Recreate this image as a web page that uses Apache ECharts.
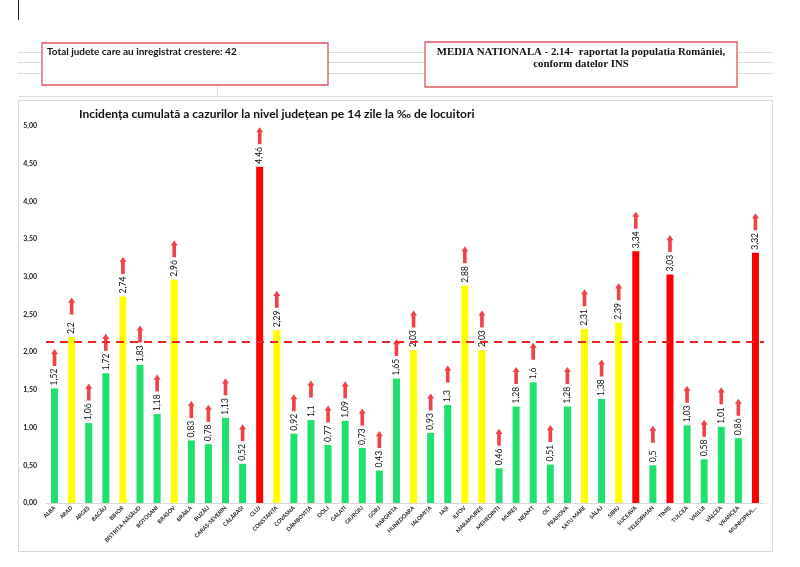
<!DOCTYPE html>
<html>
<head>
<meta charset="utf-8">
<script src="https://cdn.jsdelivr.net/npm/echarts@6/dist/echarts.min.js"></script>
<style>
html, body { margin: 0; padding: 0; background: #fff; }
#chart { width: 800px; height: 567px; }
</style>
</head>
<body>
<div id="chart"></div>
<script>
var judete = ['ALBA', 'ARAD', 'ARGEȘ', 'BACĂU', 'BIHOR', 'BISTRIȚA-NĂSĂUD', 'BOTOȘANI', 'BRAȘOV',
    'BRĂILA', 'BUZĂU', 'CARAȘ-SEVERIN', 'CĂLĂRAȘI', 'CLUJ', 'CONSTANȚA', 'COVASNA', 'DÂMBOVIȚA',
    'DOLJ', 'GALAȚI', 'GIURGIU', 'GORJ', 'HARGHITA', 'HUNEDOARA', 'IALOMIȚA', 'IAȘI', 'ILFOV',
    'MARAMUREȘ', 'MEHEDINȚI', 'MUREȘ', 'NEAMȚ', 'OLT', 'PRAHOVA', 'SATU MARE', 'SĂLAJ', 'SIBIU',
    'SUCEAVA', 'TELEORMAN', 'TIMIȘ', 'TULCEA', 'VASLUI', 'VÂLCEA', 'VRANCEA', 'MUNICIPIUL...'];

var incidenta = [1.52, 2.2, 1.06, 1.72, 2.74, 1.83, 1.18, 2.96, 0.83, 0.78, 1.13, 0.52, 4.46,
    2.29, 0.92, 1.1, 0.77, 1.09, 0.73, 0.43, 1.65, 2.03, 0.93, 1.3, 2.88, 2.03, 0.46, 1.28, 1.6,
    0.51, 1.28, 2.31, 1.38, 2.39, 3.34, 0.5, 3.03, 1.03, 0.58, 1.01, 0.86, 3.32];

var media_nationala = 2.14;
var total_crestere = 42;

var culoare = function(v){
    if (v >= 3) return '#ff0000';
    if (v >= 2) return '#ffff00';
    return '#20e070';
};

var virgula = function(v, fix){
    return (fix ? v.toFixed(fix) : String(v)).replace('.', ',');
};

var myChart = echarts.init(document.getElementById('chart'));

var bar_data = incidenta.map(function(v){
    return {value: v, itemStyle: {color: culoare(v)}};
});

// sageata rosie deasupra fiecarei coloane
var sageata = 'path://M5,0 L10,6 L7.6,6 L7.6,20 L2.4,20 L2.4,6 L0,6 Z';

var graphic = [
    {type: 'line', shape: {x1: 18.5, y1: 0, x2: 18.5, y2: 20}, style: {stroke: '#222', lineWidth: 1}},
    {type: 'line', shape: {x1: 18, y1: 52.5, x2: 773, y2: 52.5}, style: {stroke: '#dcdcdc', lineWidth: 1}},
    {type: 'line', shape: {x1: 18, y1: 62.5, x2: 773, y2: 62.5}, style: {stroke: '#dcdcdc', lineWidth: 1}},
    {type: 'line', shape: {x1: 18, y1: 73.5, x2: 773, y2: 73.5}, style: {stroke: '#dcdcdc', lineWidth: 1}},
    {type: 'line', shape: {x1: 217.5, y1: 85, x2: 217.5, y2: 97}, style: {stroke: '#dcdcdc', lineWidth: 1}},
    {type: 'line', shape: {x1: 18, y1: 96.5, x2: 773, y2: 96.5}, style: {stroke: '#dcdcdc', lineWidth: 1}},
    {type: 'rect', shape: {x: 18.5, y: 100.5, width: 754, height: 451}, style: {fill: '#fff', stroke: '#d9d9d9', lineWidth: 1}, z: -1},
    {type: 'rect', shape: {x: 42, y: 43, width: 286, height: 42}, style: {fill: '#fff', stroke: '#e05560', lineWidth: 1.3}},
    {type: 'text', left: 47, top: 47, style: {
        text: 'Total judete care au inregistrat crestere: ' + total_crestere,
        font: 'bold 10px Lato', fill: '#111'}},
    {type: 'rect', shape: {x: 425, y: 42, width: 312, height: 45}, style: {fill: '#fff', stroke: '#e05560', lineWidth: 1.3}},
    {type: 'text', x: 581, y: 46, style: {
        text: 'MEDIA NATIONALA - ' + media_nationala + '-  raportat la populatia României,\nconform datelor INS',
        font: 'bold 10.8px "Liberation Serif"', fill: '#111', textAlign: 'center', lineHeight: 12}}
];

var option = {
    animation: false,
    backgroundColor: '#fff',
    title: {
        text: 'Incidența cumulată a cazurilor la nivel județean pe 14 zile la ‰ de locuitori',
        left: 74,
        top: 103,
        textStyle: {fontFamily: 'Lato', fontWeight: 'bold', fontSize: 12, color: '#111'}
    },
    graphic: graphic,
    grid: {left: 46, right: 36, top: 126, bottom: 64},
    xAxis: {
        type: 'category',
        data: judete,
        axisTick: {show: false},
        axisLine: {lineStyle: {color: '#d9d9d9'}},
        axisLabel: {interval: 0, rotate: 45, fontSize: 5.5, fontFamily: 'Lato', fontWeight: 'bold', color: '#222', margin: 4}
    },
    yAxis: {
        type: 'value',
        min: 0,
        max: 5,
        interval: 0.5,
        splitLine: {show: false},
        axisLabel: {fontSize: 7, fontFamily: 'Lato', fontWeight: 'bold', color: '#222', margin: 9,
            formatter: function(v){ return virgula(v, 2); }}
    },
    series: [
        {
            type: 'bar',
            data: bar_data,
            barWidth: 7,
            label: {
                show: true,
                position: 'top',
                rotate: 90,
                align: 'left',
                verticalAlign: 'middle',
                distance: 3,
                fontSize: 8.5,
                fontFamily: 'Lato',
                color: '#111',
                formatter: function(p){ return virgula(p.value); }
            },
            markLine: {
                silent: true,
                symbol: 'none',
                label: {show: false},
                lineStyle: {color: '#e8262b', type: [8, 6], width: 1.8},
                data: [{yAxis: media_nationala}]
            }
        },
        {
            type: 'scatter',
            data: incidenta,
            symbol: sageata,
            symbolSize: [7, 17],
            symbolOffset: [0, -31],
            itemStyle: {color: '#e8141b'},
            z: 3
        }
    ]
};

myChart.setOption(option);
</script>
</body>
</html>
